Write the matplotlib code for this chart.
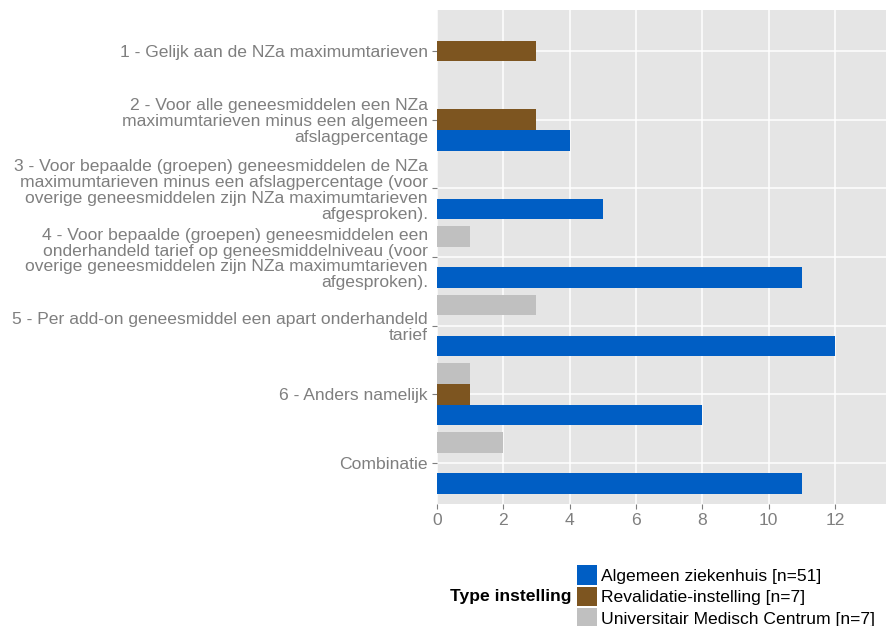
import matplotlib
matplotlib.use("Agg")
import matplotlib.pyplot as plt
import numpy as np

plt.rcParams['font.family'] = ['Liberation Sans', 'DejaVu Sans']

categories = [
    "1 - Gelijk aan de NZa maximumtarieven",
    "2 - Voor alle geneesmiddelen een NZa\nmaximumtarieven minus een algemeen\nafslagpercentage",
    "3 - Voor bepaalde (groepen) geneesmiddelen de NZa\nmaximumtarieven minus een afslagpercentage (voor\noverige geneesmiddelen zijn NZa maximumtarieven\nafgesproken).",
    "4 - Voor bepaalde (groepen) geneesmiddelen een\nonderhandeld tarief op geneesmiddelniveau (voor\noverige geneesmiddelen zijn NZa maximumtarieven\nafgesproken).",
    "5 - Per add-on geneesmiddel een apart onderhandeld\ntarief",
    "6 - Anders namelijk",
    "Combinatie",
]
series_names = ["Algemeen ziekenhuis [n=51]", "Revalidatie-instelling [n=7]",
                "Universitair Medisch Centrum [n=7]"]
algemeen = [0, 4, 5, 11, 12, 8, 11]
revalidatie = [3, 3, 0, 0, 0, 1, 0]
umc = [0, 0, 0, 1, 3, 1, 2]
x_ticks = [0, 2, 4, 6, 8, 10, 12]
legend_title = "Type instelling"

colors = ["#005EC4", "#7D5520", "#C0C0C0"]
offsets = [0.3, 0.0, -0.3]
FS = 12.6

W, H = 886, 626
fig = plt.figure(figsize=(W / 100, H / 100), dpi=100)
ax = fig.add_axes([437 / W, 1 - 504 / H, 1 - 437 / W, (504 - 10) / H])
ax.set_facecolor("#E5E5E5")

y = np.arange(len(categories))
handles = []
for vals, c, off, name in zip([algemeen, revalidatie, umc], colors, offsets, series_names):
    v = np.array(vals, dtype=float)
    mask = v > 0
    ax.barh(y[mask] + off, v[mask], height=0.3, color=c, linewidth=0, zorder=3)
    handles.append(plt.Rectangle((0, 0), 1, 1, facecolor=c, edgecolor='none'))

ax.set_xlim(0, 13.54)
ax.set_ylim(len(categories) - 1 + 0.6, -0.6)
ax.set_xticks(x_ticks)
ax.set_xticklabels([str(t) for t in x_ticks])
ax.set_yticks(y)
ax.set_yticklabels(categories, linespacing=1.08)
ax.grid(True, color="white", linewidth=1.1, zorder=0)
ax.set_axisbelow(True)
for s in ax.spines.values():
    s.set_visible(False)
ax.tick_params(axis='both', colors="#7F7F7F", labelcolor="#7F7F7F", labelsize=FS,
               length=3.5, width=0.8, pad=3)

leg = fig.legend(handles, series_names, loc='upper left',
                 bbox_to_anchor=(577 / W, 1 - 565 / H), frameon=False,
                 fontsize=FS, handlelength=1.12, handleheight=1.35,
                 labelspacing=0.12, handletextpad=0.25, borderpad=0, borderaxespad=0)
fig.text(572 / W, 1 - 597 / H, legend_title, ha='right', va='center',
         fontsize=FS, fontweight='bold', color='black')

fig.savefig("out.png", dpi=100)
